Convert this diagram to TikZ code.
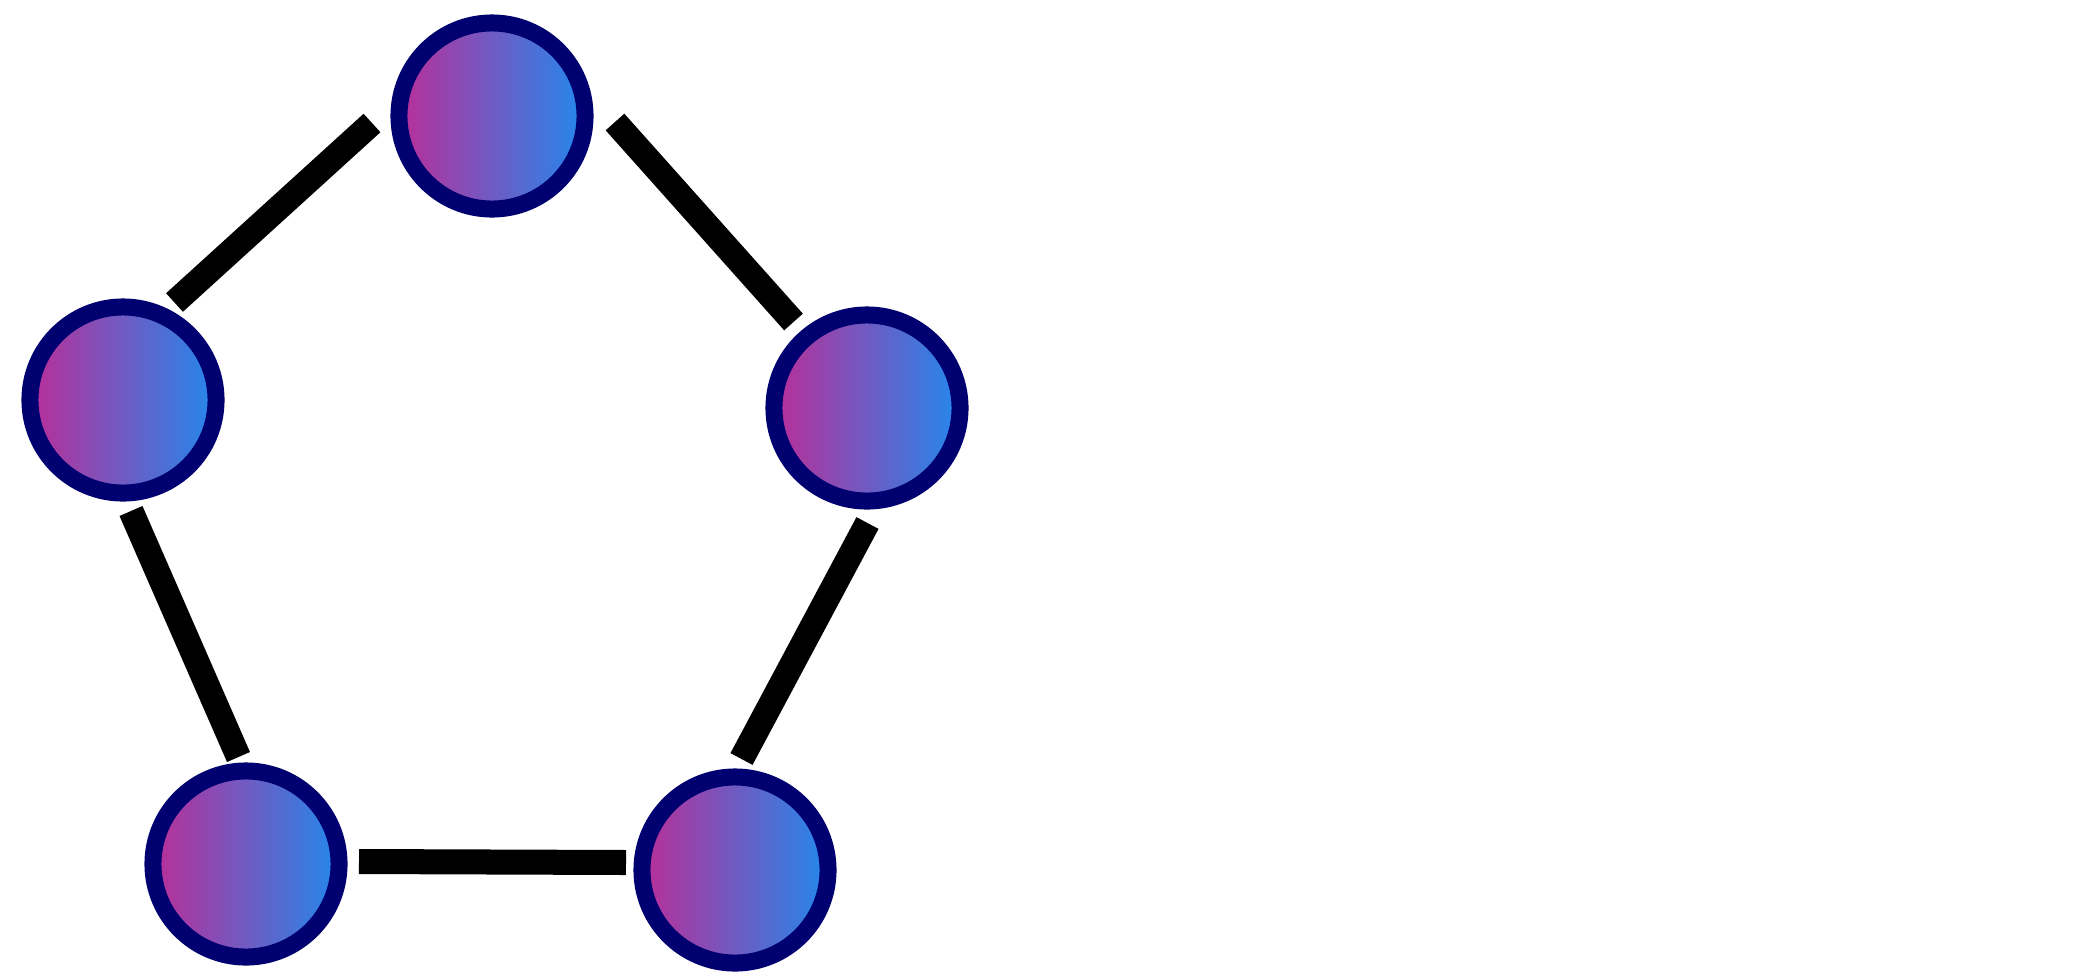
\documentclass[tikz,border=0pt]{standalone}
\definecolor{navyring}{RGB}{0,0,112}
\definecolor{gmag}{RGB}{186,46,152}
\definecolor{gblue}{RGB}{35,136,236}
\begin{document}
\begin{tikzpicture}[x=0.01cm,y=-0.01cm,
  ball/.style={circle, draw=navyring, line width=0.17cm, minimum size=1.86cm, inner sep=0pt,
               left color=gmag, right color=gblue},
  link/.style={line width=0.25cm, line cap=butt}]
\useasboundingbox[fill=white] (0,0) rectangle (2087,972);
\node[ball] (A) at (492,116) {};
\node[ball] (B) at (123,400) {};
\node[ball] (C) at (867,408) {};
\node[ball] (D) at (246,864) {};
\node[ball] (E) at (735,870) {};
\coordinate (ba) at (174.5,302.5);
\coordinate (ab) at (372,123);
\coordinate (ac) at (615,122);
\coordinate (ca) at (793.5,322);
\coordinate (bd) at (131,511);
\coordinate (db) at (238.5,757);
\coordinate (ce) at (867.5,523);
\coordinate (ec) at (741.5,759);
\coordinate (de) at (359,861.5);
\coordinate (ed) at (626,862.5);
\draw[link] (ba) -- (ab);
\draw[link] (ac) -- (ca);
\draw[link] (bd) -- (db);
\draw[link] (ce) -- (ec);
\draw[link] (de) -- (ed);
\end{tikzpicture}
\end{document}
